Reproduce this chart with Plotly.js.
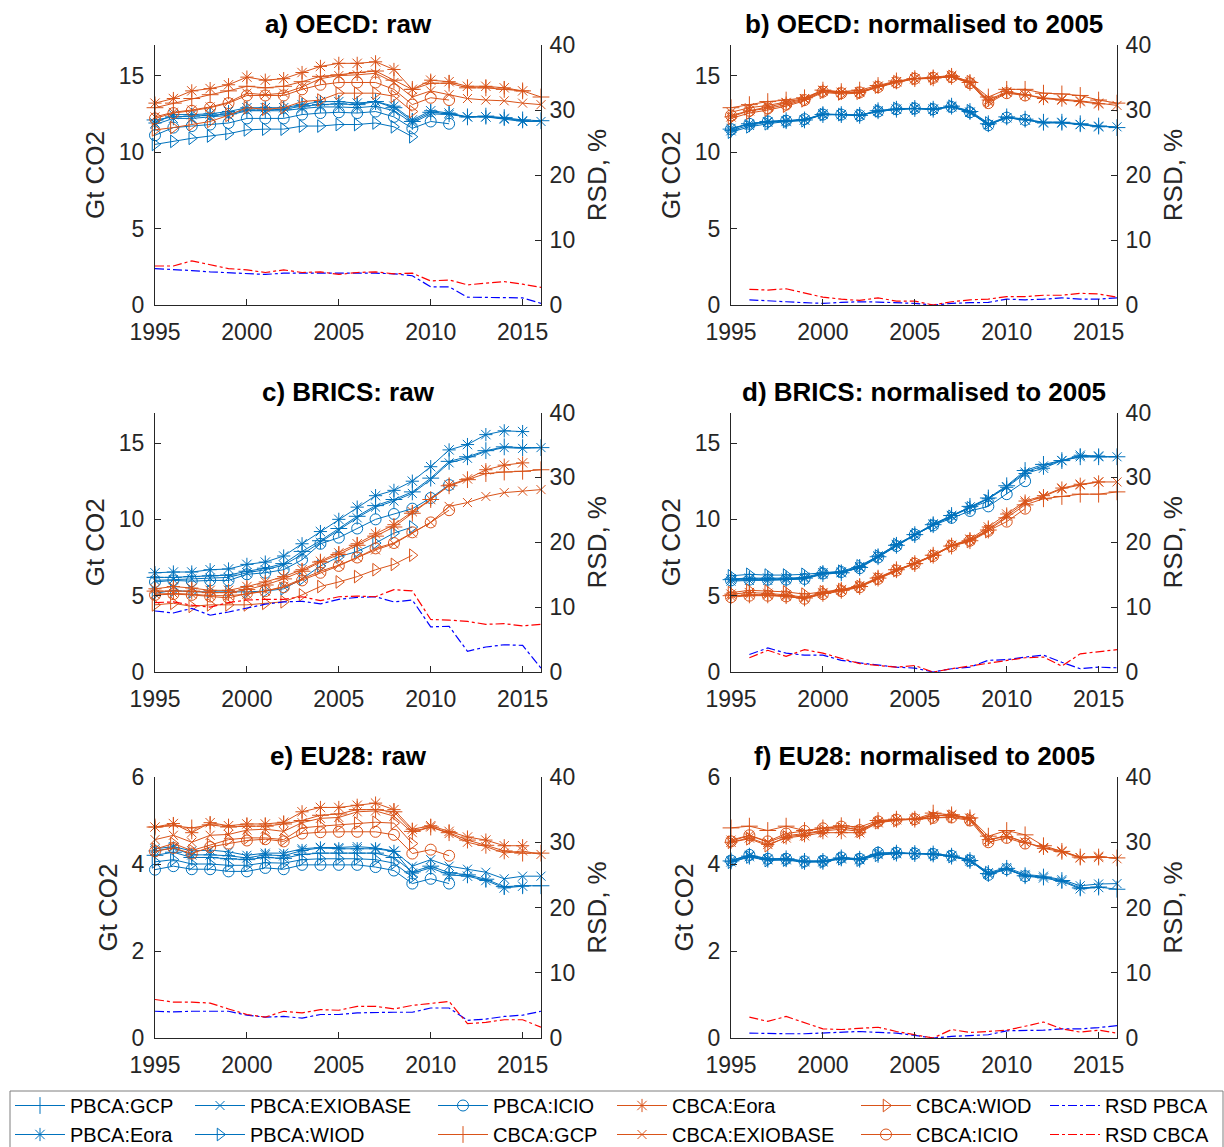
<!DOCTYPE html>
<html><head><meta charset="utf-8">
<script src="https://cdn.plot.ly/plotly-3.0.1.min.js"></script>
<style>html,body{margin:0;padding:0;background:#fff}#chart{width:1224px;height:1147px}</style>
</head><body><div id="chart"></div>
<script>
const years = [1995,1996,1997,1998,1999,2000,2001,2002,2003,2004,2005,2006,2007,2008,2009,2010,2011,2012,2013,2014,2015,2016];

// ---- a) OECD: raw ----
const a_PBCA_GCP = [12.1,12.3,12.35,12.4,12.5,12.75,12.75,12.8,13.0,13.1,13.15,13.1,13.3,12.9,12.0,12.6,12.5,12.3,12.35,12.25,12.1,12.05];
const a_PBCA_EXIOBASE = [11.8,12.2,12.2,12.3,12.4,12.7,12.7,12.7,12.85,12.95,12.95,12.9,13.0,12.7,11.9,12.5,12.45,12.3,12.3,12.15,12.0,12.0];
const a_PBCA_ICIO = [11.1,11.6,11.7,11.8,11.9,12.2,12.2,12.2,12.45,12.55,12.6,12.55,12.65,12.3,11.55,12.0,11.85];
const a_PBCA_Eora = [11.9,12.45,12.45,12.5,12.65,12.9,12.9,12.9,13.1,13.3,13.3,13.2,13.3,13.0,12.1,12.7,12.55,12.3,12.3,12.2,12.05];
const a_PBCA_WIOD = [10.5,10.7,10.9,11.05,11.2,11.45,11.5,11.5,11.7,11.7,11.8,11.8,11.9,11.65,11.0];
const a_CBCA_GCP = [12.9,13.2,13.5,13.75,14.0,14.3,14.2,14.3,14.6,14.95,15.05,15.2,15.3,14.7,14.1,14.5,14.5,14.2,14.2,14.1,14.0,13.6];
const a_CBCA_EXIOBASE = [12.3,12.6,12.75,12.95,13.25,13.85,13.75,13.85,14.25,14.8,15.0,15.05,15.15,14.55,13.6,14.0,13.75,13.5,13.4,13.35,13.2,13.1];
const a_CBCA_ICIO = [12.2,12.55,12.7,12.9,13.2,13.7,13.7,13.7,14.1,14.4,14.55,14.55,14.55,14.1,13.1,13.55,13.4];
const a_CBCA_Eora = [13.2,13.5,14.0,14.15,14.4,14.9,14.7,14.8,15.2,15.6,15.8,15.8,15.9,15.4,14.1,14.7,14.6,14.3,14.3,14.2,14.0];
const a_CBCA_WIOD = [11.45,11.6,11.8,12.0,12.4,12.9,12.8,12.9,13.3,13.4,13.85,13.85,13.85,13.65,12.65];
const a_RSD_PBCA = [5.6,5.5,5.3,5.1,5.0,4.9,4.7,4.9,4.9,5.0,4.9,5.0,4.9,4.8,4.5,2.8,2.8,1.2,1.2,1.1,1.1,0.25];
const a_RSD_CBCA = [6.0,6.0,6.8,6.25,5.6,5.4,5.0,5.4,5.0,5.1,4.7,5.0,5.1,4.8,4.9,3.7,3.85,3.1,3.3,3.6,3.2,2.7];

// ---- b) OECD: normalised to 2005 ----
const b_PBCA_GCP = [11.5,11.85,12.0,12.05,12.1,12.45,12.45,12.4,12.7,12.8,12.85,12.8,13.0,12.65,11.85,12.3,12.15,11.95,11.95,11.85,11.7,11.6];
const b_PBCA_EXIOBASE = [11.55,11.85,12.0,12.05,12.1,12.45,12.45,12.4,12.65,12.8,12.85,12.8,12.95,12.6,11.8,12.25,12.1,11.95,11.95,11.8,11.7,11.65];
const b_PBCA_ICIO = [11.5,11.85,12.0,12.05,12.15,12.45,12.45,12.4,12.65,12.8,12.85,12.8,12.95,12.6,11.75,12.25,12.1];
const b_PBCA_Eora = [11.4,11.75,11.95,12.0,12.1,12.5,12.45,12.4,12.7,12.8,12.85,12.8,13.0,12.6,11.8,12.25,12.1,11.9,11.9,11.8,11.65];
const b_PBCA_WIOD = [11.3,11.65,11.85,12.0,12.05,12.45,12.45,12.4,12.7,12.85,12.85,12.8,13.0,12.7,11.9];
const b_CBCA_GCP = [12.9,13.1,13.3,13.4,13.55,14.05,13.95,14.05,14.35,14.65,14.8,14.85,14.95,14.55,13.6,14.1,14.1,13.85,13.8,13.7,13.4,13.2];
const b_CBCA_EXIOBASE = [12.6,12.9,13.05,13.25,13.5,14.05,13.9,13.95,14.3,14.6,14.8,14.85,14.95,14.5,13.3,13.9,13.75,13.55,13.45,13.35,13.2,13.05];
const b_CBCA_ICIO = [12.4,12.7,12.85,13.1,13.4,13.95,13.85,13.9,14.25,14.55,14.8,14.85,14.9,14.5,13.2,13.85,13.7];
const b_CBCA_Eora = [12.3,12.7,12.95,13.2,13.45,14.0,13.9,13.9,14.3,14.6,14.8,14.9,15.0,14.6,13.4,13.95,13.75,13.5,13.4,13.3,13.15];
const b_CBCA_WIOD = [12.2,12.55,12.75,13.0,13.35,13.9,13.8,13.85,14.25,14.6,14.8,14.8,14.95,14.6,13.3];
const b_RSD_PBCA = [null,0.8,0.7,0.5,0.35,0.25,0.4,0.5,0.45,0.35,0.25,0,0.25,0.35,0.4,0.9,0.8,0.9,1.1,0.9,0.9,1.1];
const b_RSD_CBCA = [null,2.4,2.3,2.5,1.8,1.2,0.9,0.7,1.1,0.6,0.6,0,0.5,0.8,0.9,1.3,1.3,1.5,1.5,1.8,1.7,1.2];

// ---- c) BRICS: raw ----
const c_PBCA_GCP = [6.2,6.2,6.25,6.3,6.35,6.6,6.8,7.1,7.9,8.6,9.4,10.2,10.9,11.3,11.8,12.7,13.8,14.1,14.5,14.75,14.7,14.7];
const c_PBCA_EXIOBASE = [6.0,6.05,6.1,6.15,6.2,6.5,6.7,7.0,7.7,8.5,9.3,10.1,10.8,11.2,11.7,12.6,13.7,14.0,14.45,14.7,14.65,14.7];
const c_PBCA_ICIO = [5.9,6.0,5.95,6.0,6.0,6.4,6.5,6.7,7.35,8.4,8.8,9.4,10.0,10.35,10.7,11.4,12.25];
const c_PBCA_Eora = [6.5,6.55,6.55,6.7,6.75,7.05,7.2,7.6,8.4,9.2,10.0,10.8,11.55,11.9,12.5,13.45,14.55,14.9,15.55,15.8,15.75];
const c_PBCA_WIOD = [5.15,5.35,5.25,5.25,5.25,5.25,5.3,5.45,6.1,6.95,7.55,7.9,8.45,9.1,9.5];
const c_CBCA_GCP = [5.3,5.3,5.3,5.2,5.2,5.4,5.7,6.1,6.6,7.2,7.7,8.3,8.9,9.5,10.4,11.3,12.2,12.6,13.0,13.1,13.15,13.25];
const c_CBCA_EXIOBASE = [5.1,5.15,5.1,5.0,5.0,5.1,5.3,5.6,6.1,6.6,7.0,7.5,8.0,8.4,9.1,9.8,10.85,11.1,11.5,11.75,11.85,11.95];
const c_CBCA_ICIO = [5.05,5.1,5.05,4.95,4.85,5.15,5.3,5.55,6.0,6.5,6.95,7.5,8.1,8.45,9.15,9.8,10.6];
const c_CBCA_Eora = [5.45,5.6,5.5,5.35,5.35,5.6,5.9,6.25,6.7,7.25,7.8,8.4,9.05,9.65,10.5,11.3,12.25,12.65,13.25,13.55,13.7];
const c_CBCA_WIOD = [4.4,4.5,4.3,4.4,4.4,4.4,4.5,4.6,5.05,5.6,5.9,6.25,6.7,7.05,7.65];
const c_RSD_PBCA = [9.4,9.1,9.8,8.75,9.25,9.9,10.45,10.8,10.9,10.5,11.2,11.5,11.6,10.8,11.1,6.95,7.05,3.2,3.85,4.2,4.1,0.6];
const c_RSD_CBCA = [10.7,10.8,10.3,10.0,10.7,11.1,11.2,11.2,11.6,11.0,11.6,11.7,11.6,12.7,12.5,8.1,8.0,7.8,7.35,7.45,7.1,7.35];

// ---- d) BRICS: normalised to 2005 ----
const d_PBCA_GCP = [6.05,6.1,6.1,6.1,6.15,6.45,6.5,6.85,7.55,8.3,9.0,9.65,10.25,10.85,11.4,12.2,13.2,13.6,13.85,14.1,14.1,14.1];
const d_PBCA_EXIOBASE = [5.95,6.0,6.0,6.05,6.1,6.4,6.5,6.85,7.55,8.3,9.0,9.65,10.2,10.8,11.35,12.15,13.1,13.5,13.85,14.1,14.1,14.1];
const d_PBCA_ICIO = [6.0,6.05,6.05,6.05,6.1,6.45,6.55,6.8,7.5,8.25,9.0,9.6,10.1,10.55,10.85,11.65,12.5];
const d_PBCA_Eora = [6.1,6.15,6.15,6.15,6.2,6.5,6.55,6.9,7.6,8.35,9.0,9.7,10.25,10.8,11.35,12.1,13.0,13.35,13.85,14.2,14.15];
const d_PBCA_WIOD = [6.3,6.4,6.35,6.35,6.4,6.5,6.6,6.95,7.6,8.35,9.0,9.6,10.2,10.75,11.2];
const d_CBCA_GCP = [5.0,5.05,5.05,5.0,4.85,5.15,5.35,5.6,6.15,6.7,7.1,7.65,8.25,8.6,9.3,10.1,10.95,11.35,11.5,11.65,11.65,11.8];
const d_CBCA_EXIOBASE = [4.95,5.05,5.05,4.95,4.8,5.15,5.35,5.6,6.15,6.65,7.1,7.65,8.3,8.65,9.35,10.2,11.1,11.5,12.0,12.25,12.45,12.45];
const d_CBCA_ICIO = [4.9,5.0,5.0,4.95,4.8,5.1,5.3,5.55,6.1,6.65,7.1,7.6,8.25,8.6,9.25,9.85,10.7];
const d_CBCA_Eora = [5.1,5.2,5.15,5.05,4.9,5.2,5.4,5.65,6.2,6.7,7.1,7.65,8.3,8.7,9.5,10.35,11.2,11.55,12.05,12.3,12.45];
const d_CBCA_WIOD = [5.2,5.35,5.3,5.25,5.1,5.25,5.4,5.6,6.1,6.65,7.1,7.6,8.25,8.55,9.2];
const d_RSD_PBCA = [null,2.7,3.7,2.9,2.6,2.6,1.8,1.4,1.1,0.75,0.6,0,0.5,0.75,1.8,1.9,2.3,2.6,1.5,0.5,0.75,0.65];
const d_RSD_CBCA = [null,2.2,3.35,2.4,3.45,2.9,2.05,1.3,1.0,0.75,1.0,0,0.5,0.9,1.3,1.8,2.2,2.3,0.9,2.8,3.1,3.45];

// ---- e) EU28: raw ----
const e_PBCA_GCP = [4.2,4.27,4.15,4.15,4.12,4.1,4.15,4.13,4.22,4.25,4.25,4.25,4.25,4.15,3.82,3.95,3.8,3.75,3.65,3.48,3.5,3.5];
const e_PBCA_EXIOBASE = [4.35,4.4,4.3,4.32,4.28,4.2,4.25,4.25,4.35,4.38,4.38,4.4,4.37,4.3,3.95,4.1,3.95,3.88,3.81,3.66,3.72,3.72];
const e_PBCA_ICIO = [3.87,3.95,3.88,3.88,3.83,3.83,3.91,3.88,3.98,3.98,3.98,3.98,3.93,3.85,3.55,3.66,3.55];
const e_PBCA_Eora = [4.3,4.37,4.21,4.21,4.19,4.14,4.21,4.19,4.31,4.37,4.35,4.35,4.35,4.29,3.79,3.91,3.75,3.72,3.62,3.45,3.49];
const e_PBCA_WIOD = [4.05,4.1,4.0,4.0,3.97,3.97,4.03,4.02,4.1,4.12,4.12,4.12,4.1,4.02,3.7];
const e_CBCA_GCP = [4.85,4.88,4.83,4.9,4.85,4.87,4.87,4.92,5.0,5.12,5.15,5.25,5.25,5.2,4.75,4.85,4.72,4.55,4.43,4.3,4.25,4.25];
const e_CBCA_EXIOBASE = [4.56,4.66,4.5,4.66,4.68,4.78,4.8,4.75,4.95,5.05,5.07,5.2,5.22,5.1,4.72,4.85,4.7,4.5,4.4,4.25,4.3,4.22];
const e_CBCA_ICIO = [4.29,4.37,4.24,4.39,4.47,4.54,4.57,4.52,4.7,4.73,4.74,4.74,4.74,4.67,4.24,4.33,4.19];
const e_CBCA_Eora = [4.85,4.93,4.72,4.95,4.88,4.92,4.92,4.96,5.2,5.3,5.3,5.35,5.4,5.25,4.8,4.88,4.75,4.62,4.55,4.42,4.42];
const e_CBCA_WIOD = [4.34,4.47,4.31,4.44,4.56,4.6,4.6,4.56,4.83,4.87,4.9,4.94,4.96,4.94,4.47];
const e_RSD_PBCA = [4.1,4.0,4.1,4.1,4.1,3.5,3.2,3.3,3.05,3.6,3.6,3.85,3.95,3.95,3.95,4.6,4.6,2.7,2.9,3.3,3.5,4.1];
const e_RSD_CBCA = [5.9,5.5,5.5,5.35,4.45,3.6,3.2,4.1,3.85,4.35,4.25,4.85,4.85,4.45,5.0,5.35,5.6,2.2,2.4,2.8,2.8,1.65];

// ---- f) EU28: normalised to 2005 ----
const f_PBCA_GCP = [4.07,4.18,4.11,4.12,4.06,4.06,4.14,4.11,4.22,4.25,4.24,4.23,4.18,4.08,3.78,3.9,3.73,3.7,3.62,3.45,3.47,3.42];
const f_PBCA_EXIOBASE = [4.08,4.2,4.12,4.12,4.07,4.07,4.14,4.12,4.24,4.26,4.24,4.24,4.19,4.1,3.8,3.92,3.76,3.72,3.64,3.5,3.54,3.55];
const f_PBCA_ICIO = [4.08,4.21,4.12,4.12,4.06,4.07,4.15,4.12,4.26,4.26,4.24,4.23,4.19,4.08,3.75,3.88,3.72];
const f_PBCA_Eora = [4.05,4.17,4.1,4.1,4.05,4.05,4.12,4.1,4.22,4.24,4.24,4.22,4.18,4.07,3.77,3.88,3.72,3.68,3.6,3.43,3.46];
const f_PBCA_WIOD = [4.04,4.16,4.08,4.09,4.04,4.05,4.12,4.09,4.2,4.24,4.24,4.22,4.17,4.08,3.8];
const f_CBCA_GCP = [4.83,4.87,4.77,4.87,4.77,4.83,4.88,4.85,5.0,5.03,5.03,5.17,5.13,5.06,4.64,4.77,4.67,4.42,4.29,4.16,4.16,4.14];
const f_CBCA_EXIOBASE = [4.55,4.66,4.5,4.65,4.7,4.78,4.85,4.78,4.97,5.02,5.03,5.12,5.12,5.05,4.56,4.65,4.5,4.38,4.3,4.15,4.18,4.12];
const f_CBCA_ICIO = [4.52,4.66,4.52,4.7,4.76,4.82,4.86,4.78,4.98,5.02,5.03,5.06,5.07,5.0,4.5,4.6,4.47];
const f_CBCA_Eora = [4.5,4.6,4.45,4.6,4.65,4.72,4.72,4.72,4.95,5.02,5.03,5.1,5.13,5.05,4.56,4.63,4.5,4.36,4.28,4.14,4.15];
const f_CBCA_WIOD = [4.5,4.58,4.42,4.62,4.68,4.76,4.8,4.75,4.95,5.0,5.03,5.05,5.1,5.02,4.55];
const f_RSD_PBCA = [null,0.75,0.65,0.65,0.65,0.75,0.85,1.0,0.85,0.75,0.4,0,0.25,0.4,0.5,1.1,1.1,1.2,1.4,1.4,1.6,1.9];
const f_RSD_CBCA = [null,3.2,2.55,3.3,2.3,1.4,1.3,1.45,1.65,1.0,0.5,0,1.3,0.85,1.0,1.2,1.8,2.45,1.4,0.9,1.2,0.75];

const panelTitles = ['a) OECD: raw','b) OECD: normalised to 2005','c) BRICS: raw','d) BRICS: normalised to 2005','e) EU28: raw','f) EU28: normalised to 2005'];
const leftTicks = [[0,5,10,15],[0,5,10,15],[0,5,10,15],[0,5,10,15],[0,2,4,6],[0,2,4,6]];
const leftMax = [17,17,17,17,6,6];
const rightTicks = [0,10,20,30,40];
const xTicks = [1995,2000,2005,2010,2015];

const panelData = [
  {PBCA:[a_PBCA_GCP,a_PBCA_EXIOBASE,a_PBCA_ICIO,a_PBCA_Eora,a_PBCA_WIOD], CBCA:[a_CBCA_GCP,a_CBCA_EXIOBASE,a_CBCA_ICIO,a_CBCA_Eora,a_CBCA_WIOD], RSD:[a_RSD_PBCA,a_RSD_CBCA]},
  {PBCA:[b_PBCA_GCP,b_PBCA_EXIOBASE,b_PBCA_ICIO,b_PBCA_Eora,b_PBCA_WIOD], CBCA:[b_CBCA_GCP,b_CBCA_EXIOBASE,b_CBCA_ICIO,b_CBCA_Eora,b_CBCA_WIOD], RSD:[b_RSD_PBCA,b_RSD_CBCA]},
  {PBCA:[c_PBCA_GCP,c_PBCA_EXIOBASE,c_PBCA_ICIO,c_PBCA_Eora,c_PBCA_WIOD], CBCA:[c_CBCA_GCP,c_CBCA_EXIOBASE,c_CBCA_ICIO,c_CBCA_Eora,c_CBCA_WIOD], RSD:[c_RSD_PBCA,c_RSD_CBCA]},
  {PBCA:[d_PBCA_GCP,d_PBCA_EXIOBASE,d_PBCA_ICIO,d_PBCA_Eora,d_PBCA_WIOD], CBCA:[d_CBCA_GCP,d_CBCA_EXIOBASE,d_CBCA_ICIO,d_CBCA_Eora,d_CBCA_WIOD], RSD:[d_RSD_PBCA,d_RSD_CBCA]},
  {PBCA:[e_PBCA_GCP,e_PBCA_EXIOBASE,e_PBCA_ICIO,e_PBCA_Eora,e_PBCA_WIOD], CBCA:[e_CBCA_GCP,e_CBCA_EXIOBASE,e_CBCA_ICIO,e_CBCA_Eora,e_CBCA_WIOD], RSD:[e_RSD_PBCA,e_RSD_CBCA]},
  {PBCA:[f_PBCA_GCP,f_PBCA_EXIOBASE,f_PBCA_ICIO,f_PBCA_Eora,f_PBCA_WIOD], CBCA:[f_CBCA_GCP,f_CBCA_EXIOBASE,f_CBCA_ICIO,f_CBCA_Eora,f_CBCA_WIOD], RSD:[f_RSD_PBCA,f_RSD_CBCA]}
];

const dbNames = ['GCP','EXIOBASE','ICIO','Eora','WIOD'];
const BLUE = '#0072BD', ORANGE = '#D95319';
const symbols = {GCP:'cross-thin-open', EXIOBASE:'x-thin-open', ICIO:'circle-open', Eora:'asterisk-open', WIOD:'triangle-right-open'};
const symSize = {GCP:12, EXIOBASE:9, ICIO:11, Eora:11, WIOD:11};
const legendPlace = {
  'PBCA:GCP':['legend',1], 'PBCA:Eora':['legend',2],
  'PBCA:EXIOBASE':['legend2',1], 'PBCA:WIOD':['legend2',2],
  'PBCA:ICIO':['legend3',1], 'CBCA:GCP':['legend3',2],
  'CBCA:Eora':['legend4',1], 'CBCA:EXIOBASE':['legend4',2],
  'CBCA:WIOD':['legend5',1], 'CBCA:ICIO':['legend5',2],
  'RSD PBCA':['legend6',1], 'RSD CBCA':['legend6',2]
};

const W = 1224, H = 1147;
const colX = [[155,541],[731,1117]];
const rowY = [[45,305],[412.5,672],[777,1038]];

const traces = [];
panelData.forEach((pd, i) => {
  const n = i + 1;
  const xa = 'x' + (n === 1 ? '' : n);
  const ya = 'y' + (n === 1 ? '' : n);
  const yr = 'y' + (n + 6);
  const first = (i === 0);
  ['PBCA','CBCA'].forEach(kind => {
    pd[kind].forEach((vals, k) => {
      const db = dbNames[k];
      const nm = kind + ':' + db;
      const col = kind === 'PBCA' ? BLUE : ORANGE;
      traces.push({
        type:'scatter', mode:'lines+markers', x: years.slice(0, vals.length), y: vals,
        name: nm, xaxis: xa, yaxis: ya, cliponaxis: false,
        line:{color: col, width: 1},
        marker:{symbol: symbols[db], size: symSize[db], color: col, line:{color: col, width: 1}},
        showlegend: first, legend: legendPlace[nm][0], legendrank: legendPlace[nm][1]
      });
    });
  });
  [['RSD PBCA','#0000FF'],['RSD CBCA','#FF0000']].forEach((r, k) => {
    traces.push({
      type:'scatter', mode:'lines', x: years, y: pd.RSD[k], name: r[0],
      xaxis: xa, yaxis: yr, cliponaxis: false, connectgaps: false,
      line:{color: r[1], width: 1.2, dash: 'dashdot'},
      showlegend: first, legend: legendPlace[r[0]][0], legendrank: legendPlace[r[0]][1]
    });
  });
});

const AX = '#262626';
const FONT = 'Liberation Sans, Arial, Helvetica, sans-serif';
const layout = {
  width: W, height: H, margin:{l:0,r:0,t:0,b:0, autoexpand:false},
  paper_bgcolor:'#ffffff', plot_bgcolor:'rgba(0,0,0,0)',
  font:{family: FONT, size: 23, color: AX},
  annotations: [], shapes: []
};
panelTitles.forEach((t, i) => {
  const n = i + 1;
  const c = i % 2, r = Math.floor(i / 2);
  const xd = [colX[c][0] / W, colX[c][1] / W];
  const yd = [1 - rowY[r][1] / H, 1 - rowY[r][0] / H];
  const sfx = n === 1 ? '' : n;
  layout['xaxis' + sfx] = {
    domain: xd, anchor: 'y' + sfx, range: [1995, 2016], tickmode: 'array', tickvals: xTicks,
    ticks: 'inside', ticklen: 6, tickcolor: AX, showline: true, linecolor: AX, linewidth: 1,
    showgrid: false, zeroline: false, tickfont:{size: 23, color: AX}, ticklabelstandoff: 6
  };
  layout['yaxis' + sfx] = {
    domain: yd, anchor: 'x' + sfx, range: [0, leftMax[i]], tickmode: 'array', tickvals: leftTicks[i],
    ticks: 'inside', ticklen: 6, tickcolor: AX, showline: true, linecolor: AX, linewidth: 1,
    showgrid: false, zeroline: false, tickfont:{size: 23, color: AX}, ticklabelstandoff: 5,
    title:{text: 'Gt CO2', font:{size: 26, color: AX}, standoff: 6}
  };
  layout['yaxis' + (n + 6)] = {
    overlaying: 'y' + sfx, side: 'right', anchor: 'x' + sfx, range: [0, 40], tickmode: 'array', tickvals: rightTicks,
    ticks: 'inside', ticklen: 6, tickcolor: AX, showline: true, linecolor: AX, linewidth: 1,
    showgrid: false, zeroline: false, tickfont:{size: 23, color: AX}, ticklabelstandoff: 3,
    title:{text: 'RSD, %', font:{size: 26, color: AX}, standoff: 13}
  };
  layout.annotations.push({
    text: '<b>' + t + '</b>', xref: 'paper', yref: 'paper',
    x: (xd[0] + xd[1]) / 2, y: 1 - (rowY[r][0] - 21) / H, xanchor: 'center', yanchor: 'middle',
    showarrow: false, font:{size: 26, color: '#000000', family: FONT}
  });
});

const legendTextX = [70, 250, 493, 672, 916, 1105];
['legend','legend2','legend3','legend4','legend5','legend6'].forEach((lg, j) => {
  layout[lg] = {
    x: (legendTextX[j] - 60) / W, y: 1 - 1086 / H, xanchor: 'left', yanchor: 'top',
    orientation: 'v', bgcolor: 'rgba(0,0,0,0)', borderwidth: 0, itemwidth: 50,
    font:{size: 20, color: '#000000', family: FONT}, tracegroupgap: 0, traceorder: 'normal'
  };
});
layout.shapes.push({
  type: 'rect', xref: 'paper', yref: 'paper', x0: 10 / W, x1: 1223 / W, y0: -0.02, y1: 1 - 1091 / H,
  line:{color: '#7f7f7f', width: 1}, fillcolor: 'rgba(0,0,0,0)', layer: 'below'
});

Plotly.newPlot('chart', traces, layout, {staticPlot: true, displayModeBar: false});
</script>
</body></html>
